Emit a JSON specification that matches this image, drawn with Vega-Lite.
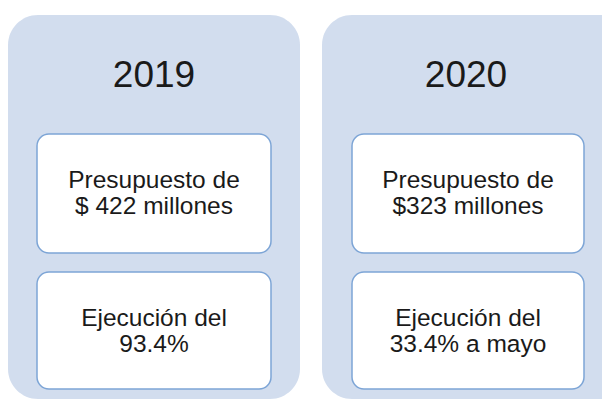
{
  "$schema": "https://vega.github.io/schema/vega-lite/v6.json",
  "width": 602,
  "height": 400,
  "autosize": {"type": "fit", "contains": "padding"},
  "padding": 0,
  "background": "white",
  "config": {"view": {"stroke": null}},
  "datasets": {
    "panels": [
      {"year": "2019", "x": 8, "x2": 300, "y": 15, "y2": 399},
      {"year": "2020", "x": 322, "x2": 632, "y": 15, "y2": 399}
    ],
    "boxes": [
      {"x": 37, "x2": 271, "y": 134, "y2": 253, "tx": 154, "ty": 188, "label": "Presupuesto de\n$ 422 millones"},
      {"x": 37, "x2": 271, "y": 272, "y2": 389, "tx": 154, "ty": 326, "label": "Ejecución del\n93.4%"},
      {"x": 352, "x2": 584, "y": 134, "y2": 253, "tx": 468, "ty": 188, "label": "Presupuesto de\n$323 millones"},
      {"x": 352, "x2": 584, "y": 272, "y2": 389, "tx": 468, "ty": 326, "label": "Ejecución del\n33.4% a mayo"}
    ],
    "titles": [
      {"tx": 154, "ty": 87, "label": "2019"},
      {"tx": 466, "ty": 87, "label": "2020"}
    ]
  },
  "layer": [
    {
      "data": {"name": "panels"},
      "mark": {"type": "rect", "fill": "#d2ddee", "cornerRadius": 30, "clip": true},
      "encoding": {
        "x": {"field": "x", "type": "quantitative", "scale": {"domain": [0, 602]}, "axis": null},
        "x2": {"field": "x2"},
        "y": {"field": "y", "type": "quantitative", "scale": {"domain": [0, 400], "reverse": true}, "axis": null},
        "y2": {"field": "y2"}
      }
    },
    {
      "data": {"name": "boxes"},
      "mark": {"type": "rect", "fill": "white", "stroke": "#7da5d6", "strokeWidth": 1.5, "cornerRadius": 12},
      "encoding": {
        "x": {"field": "x", "type": "quantitative", "scale": {"domain": [0, 602]}, "axis": null},
        "x2": {"field": "x2"},
        "y": {"field": "y", "type": "quantitative", "scale": {"domain": [0, 400], "reverse": true}, "axis": null},
        "y2": {"field": "y2"}
      }
    },
    {
      "data": {"name": "boxes"},
      "mark": {"type": "text", "font": "Liberation Sans", "fontSize": 24.5, "color": "#1a1a1a", "align": "center", "baseline": "alphabetic", "lineBreak": "\n", "lineHeight": 25.5},
      "encoding": {
        "x": {"field": "tx", "type": "quantitative", "scale": {"domain": [0, 602]}, "axis": null},
        "y": {"field": "ty", "type": "quantitative", "scale": {"domain": [0, 400], "reverse": true}, "axis": null},
        "text": {"field": "label"}
      }
    },
    {
      "data": {"name": "titles"},
      "mark": {"type": "text", "font": "Liberation Sans", "fontSize": 37, "color": "#1a1a1a", "align": "center", "baseline": "alphabetic"},
      "encoding": {
        "x": {"field": "tx", "type": "quantitative", "scale": {"domain": [0, 602]}, "axis": null},
        "y": {"field": "ty", "type": "quantitative", "scale": {"domain": [0, 400], "reverse": true}, "axis": null},
        "text": {"field": "label"}
      }
    }
  ]
}
